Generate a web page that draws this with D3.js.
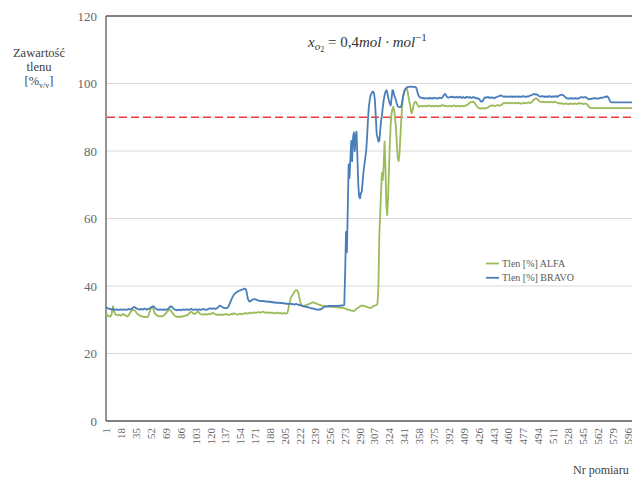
<!DOCTYPE html>
<html>
<head>
<meta charset="utf-8">
<script src="https://cdn.jsdelivr.net/npm/d3@7"></script>
<style>
  html, body { margin: 0; padding: 0; background: #fff; }
  svg { display: block; overflow: hidden; }
  text { font-family: "Liberation Serif", "DejaVu Serif", serif; }
</style>
</head>
<body>
<svg id="chart" width="632" height="478"></svg>
<script>
// Oxygen content measured by two analysers (ALFA, BRAVO), one value per measurement number
const seriesNames = ["Tlen [%] ALFA", "Tlen [%] BRAVO"];
const threshold = 90;
const yTicks = [0, 20, 40, 60, 80, 100, 120];
const xTickLabels = [1, 18, 35, 52, 69, 86, 103, 120, 137, 154, 171, 188, 205, 222, 239, 256, 273, 290,
  307, 324, 341, 358, 375, 392, 409, 426, 443, 460, 477, 494, 511, 528, 545, 562, 579, 596];

const alfa = [
  32.0, 31.5, 31.2, 31.0, 31.1, 31.0, 31.3, 32.5, 34.0, 32.6,
  31.9, 31.6, 31.4, 31.3, 31.4, 31.5, 31.3, 31.2, 31.4, 31.6,
  31.7, 31.5, 31.3, 31.2, 31.0, 31.1, 31.4, 31.8, 32.2, 32.6,
  32.8, 32.9, 32.9, 32.7, 32.4, 32.0, 31.7, 31.5, 31.3, 31.2,
  31.1, 31.0, 30.9, 30.8, 30.8, 30.9, 30.8, 30.8, 31.0, 31.6,
  32.5, 33.3, 33.8, 33.9, 33.2, 32.3, 31.8, 31.5, 31.3, 31.2,
  31.1, 31.0, 31.0, 31.1, 31.0, 31.1, 31.3, 31.5, 31.8, 32.1,
  32.4, 32.7, 32.9, 33.0, 32.8, 32.4, 32.0, 31.6, 31.3, 31.1,
  31.0, 30.9, 30.8, 30.9, 30.8, 30.9, 31.0, 30.9, 31.0, 31.1,
  31.2, 31.3, 31.2, 31.4, 31.6, 31.9, 32.2, 32.4, 32.3, 32.0,
  31.8, 31.7, 31.8, 32.0, 32.3, 32.4, 32.2, 31.9, 31.7, 31.6,
  31.5, 31.6, 31.5, 31.7, 31.6, 31.5, 31.6, 31.8, 31.7, 31.6,
  31.8, 32.0, 32.1, 31.9, 31.7, 31.6, 31.5, 31.4, 31.6, 31.5,
  31.4, 31.5, 31.6, 31.5, 31.4, 31.5, 31.6, 31.7, 31.6, 31.5,
  31.4, 31.5, 31.6, 31.7, 31.6, 31.8, 31.9, 31.8, 31.7, 31.6,
  31.5, 31.6, 31.7, 31.8, 31.7, 31.6, 31.7, 31.8, 31.9, 32.0,
  31.9, 31.8, 31.9, 32.0, 32.1, 32.0, 31.9, 32.0, 32.1, 32.2,
  32.1, 32.0, 32.1, 32.2, 32.3, 32.2, 32.1, 32.2, 32.3, 32.4,
  32.3, 32.2, 32.1, 32.2, 32.1, 32.0, 32.1, 32.2, 32.1, 32.0,
  32.1, 32.0, 31.9, 32.0, 31.9, 32.0, 32.1, 32.0, 31.9, 32.0,
  31.9, 31.8, 31.9, 32.0, 31.9, 31.8, 31.9, 32.0, 33.0, 34.5,
  35.5, 36.5, 37.0, 37.3, 37.8, 38.3, 38.6, 38.8, 38.7, 38.4,
  37.6, 36.2, 35.0, 34.4, 34.2, 34.0, 34.1, 34.2, 34.3, 34.4,
  34.5, 34.6, 34.7, 34.8, 34.9, 35.0, 35.2, 35.1, 35.0, 34.9,
  34.8, 34.7, 34.6, 34.5, 34.4, 34.3, 34.2, 34.2, 34.1, 34.1,
  34.0, 34.0, 33.9, 34.0, 33.9, 33.9, 33.8, 33.9, 33.9, 33.8,
  33.8, 33.7, 33.8, 33.7, 33.7, 33.6, 33.7, 33.6, 33.5, 33.6,
  33.5, 33.5, 33.4, 33.3, 33.2, 33.1, 33.0, 32.9, 32.9, 32.8,
  32.7, 32.7, 32.6, 32.6, 32.7, 33.0, 33.3, 33.4, 33.6, 33.8,
  34.0, 34.1, 34.2, 34.2, 34.1, 34.0, 34.0, 33.9, 33.8, 33.7,
  33.6, 33.5, 33.5, 33.6, 33.8, 34.0, 34.1, 34.2, 34.3, 34.4,
  35.0, 40.0, 55.0, 61.5, 68.0, 73.5, 71.4, 76.0, 82.8, 75.0,
  64.0, 61.0, 66.0, 74.4, 82.0, 88.0, 91.2, 92.5, 93.1, 92.0,
  89.5, 87.0, 82.0, 78.0, 77.0, 79.0, 84.0, 89.0, 93.0, 96.0,
  97.2, 98.0, 98.5, 98.6, 98.0, 96.5, 95.0, 93.8, 92.0, 91.2,
  92.0, 93.5, 94.2, 94.6, 94.5, 94.0, 93.5, 93.1, 93.2, 93.3,
  93.4, 93.3, 93.2, 93.3, 93.4, 93.3, 93.2, 93.4, 93.5, 93.4,
  93.3, 93.2, 93.3, 93.4, 93.3, 93.2, 93.3, 93.4, 93.3, 93.2,
  93.3, 93.4, 93.3, 93.5, 93.6, 93.5, 93.4, 93.3, 93.4, 93.3,
  93.2, 93.3, 93.4, 93.3, 93.2, 93.3, 93.4, 93.5, 93.4, 93.3,
  93.2, 93.3, 93.4, 93.3, 93.2, 93.3, 93.4, 93.3, 93.2, 93.3,
  93.4, 93.5, 93.6, 93.8, 94.0, 94.2, 94.4, 94.5, 94.6, 94.6,
  94.5, 94.2, 93.8, 93.4, 93.0, 92.8, 92.7, 92.6, 92.6, 92.7,
  92.6, 92.6, 92.7, 92.6, 92.7, 92.8, 92.9, 93.1, 93.3, 93.4,
  93.5, 93.4, 93.5, 93.4, 93.3, 93.4, 93.5, 93.6, 93.5, 93.4,
  93.5, 93.6, 93.8, 94.0, 94.2, 94.3, 94.2, 94.1, 94.2, 94.3,
  94.2, 94.1, 94.2, 94.3, 94.2, 94.1, 94.2, 94.3, 94.2, 94.1,
  94.2, 94.3, 94.2, 94.1, 94.0, 94.1, 94.2, 94.3, 94.2, 94.1,
  94.2, 94.3, 94.4, 94.3, 94.2, 94.3, 94.5, 94.8, 95.1, 95.3,
  95.5, 95.6, 95.5, 95.2, 94.9, 94.7, 94.6, 94.5, 94.6, 94.5,
  94.6, 94.5, 94.4, 94.5, 94.6, 94.5, 94.4, 94.5, 94.6, 94.5,
  94.4, 94.5, 94.6, 94.5, 94.4, 94.3, 94.2, 94.1, 94.2, 94.1,
  94.0, 94.1, 94.0, 93.9, 94.0, 94.1, 94.0, 93.9, 94.0, 93.9,
  94.0, 94.1, 94.0, 93.9, 94.0, 94.1, 94.0, 93.9, 94.0, 94.1,
  94.2, 94.1, 94.0, 94.1, 94.0, 93.9, 94.0, 94.1, 94.0, 93.9,
  93.6, 93.2, 92.9, 92.8, 92.7, 92.7, 92.7, 92.7, 92.7, 92.7,
  92.7, 92.7, 92.7, 92.7, 92.7, 92.7, 92.7, 92.7, 92.7, 92.7,
  92.7, 92.7, 92.7, 92.7, 92.7, 92.7, 92.7, 92.7, 92.7, 92.7,
  92.7, 92.7, 92.7, 92.7, 92.7, 92.7, 92.7, 92.7, 92.7, 92.7,
  92.7, 92.7, 92.7, 92.7, 92.7, 92.7, 92.7, 92.7, 92.7, 92.7,
  92.7, 92.7, 92.7, 92.7, 92.7, 92.7, 92.7, 92.7, 92.7, 92.7,
  92.7, 92.7
];

const bravo = [
  33.7, 33.5, 33.4, 33.3, 33.2, 33.2, 33.0, 33.1, 33.2, 33.0,
  32.9, 33.0, 33.1, 33.0, 32.9, 32.9, 33.0, 33.1, 33.0, 32.9,
  33.0, 33.1, 33.0, 32.9, 33.0, 33.1, 33.2, 33.1, 33.0, 33.2,
  33.4, 33.6, 33.8, 33.7, 33.5, 33.3, 33.2, 33.1, 33.0, 33.1,
  33.2, 33.1, 33.0, 33.2, 33.3, 33.2, 33.1, 33.0, 33.2, 33.3,
  33.4, 33.5, 33.7, 33.9, 34.0, 33.8, 33.5, 33.3, 33.1, 33.0,
  32.9, 33.0, 33.1, 33.0, 32.9, 33.0, 33.1, 33.0, 32.9, 33.0,
  33.1, 33.2, 33.5, 33.8, 34.0, 33.9, 33.6, 33.3, 33.1, 33.0,
  32.9, 32.8, 32.9, 33.0, 32.9, 32.8, 32.9, 33.0, 33.1, 33.0,
  32.9, 33.0, 33.1, 33.0, 32.9, 33.0, 33.1, 33.2, 33.1, 33.0,
  32.9, 33.0, 33.1, 33.0, 32.9, 33.0, 33.1, 33.0, 32.9, 33.0,
  33.1, 33.2, 33.1, 33.0, 32.9, 33.0, 33.1, 33.2, 33.3, 33.4,
  33.3, 33.2, 33.3, 33.4, 33.3, 33.2, 33.3, 33.5, 33.7, 34.0,
  34.2, 34.1, 33.9, 33.7, 33.6, 33.5, 33.4, 33.4, 33.5, 33.6,
  34.0, 34.6, 35.2, 35.9, 36.5, 37.0, 37.4, 37.7, 37.9, 38.1,
  38.3, 38.5, 38.6, 38.7, 38.8, 38.9, 39.0, 39.1, 39.2, 39.2,
  38.8, 37.5, 36.2, 35.6, 35.4, 35.5, 35.7, 35.9, 36.0, 36.1,
  36.1, 36.0, 35.9, 35.8, 35.7, 35.6, 35.6, 35.5, 35.5, 35.6,
  35.5, 35.4, 35.5, 35.4, 35.3, 35.4, 35.3, 35.4, 35.2, 35.3,
  35.2, 35.1, 35.2, 35.1, 35.0, 35.1, 35.0, 35.1, 35.0, 34.9,
  35.0, 34.9, 34.9, 34.8, 34.9, 34.8, 34.7, 34.8, 34.7, 34.7,
  34.8, 34.7, 34.6, 34.7, 34.6, 34.5, 34.6, 34.7, 34.6, 34.5,
  34.4, 34.3, 34.4, 34.2, 34.1, 34.0, 34.0, 33.9, 33.8, 33.8,
  33.7, 33.7, 33.6, 33.5, 33.4, 33.4, 33.3, 33.3, 33.2, 33.1,
  33.1, 33.0, 33.0, 33.1, 33.0, 33.1, 33.2, 33.4, 33.6, 33.8,
  33.9, 34.0, 33.9, 34.0, 34.1, 34.0, 34.1, 34.0, 34.1, 34.0,
  34.1, 34.0, 34.1, 34.1, 34.0, 34.1, 34.2, 34.1, 34.2, 34.3,
  34.2, 34.3, 34.4, 44.0, 56.0, 50.0, 63.0, 76.0, 72.0, 78.0,
  83.0, 77.0, 84.0, 85.5, 80.0, 84.5, 85.7, 78.0, 70.0, 66.5,
  66.0, 67.5, 68.0, 71.0, 74.0, 76.0, 78.0, 80.0, 84.0, 89.0,
  93.0, 95.0, 96.5, 97.0, 97.5, 97.6, 97.0, 95.0, 90.0, 85.0,
  84.0, 82.8, 83.0, 86.0, 89.0, 90.5, 93.0, 95.0, 96.5, 97.5,
  98.0, 97.5, 96.0, 95.0, 94.0, 93.5, 95.5, 98.0, 97.8, 96.5,
  95.8, 95.0, 94.0, 93.3, 93.1, 93.0, 93.0, 93.2, 94.5, 96.0,
  97.0, 98.0, 98.4, 98.7, 98.9, 99.0, 99.0, 99.1, 99.1, 99.0,
  99.0, 99.0, 99.0, 98.9, 98.8, 98.0, 97.0, 96.3, 96.0, 95.8,
  95.7, 95.8, 95.6, 95.7, 95.5, 95.6, 95.6, 95.7, 95.5, 95.6,
  95.8, 95.6, 95.5, 95.7, 95.6, 95.8, 95.7, 95.5, 95.6, 95.7,
  95.6, 95.8, 95.7, 95.6, 95.9, 96.3, 96.7, 96.9, 96.6, 96.1,
  95.9, 95.8, 95.9, 96.1, 96.0, 95.9, 96.1, 96.0, 95.8, 95.9,
  96.1, 95.9, 95.8, 96.0, 96.1, 95.9, 95.7, 95.9, 96.0, 95.8,
  95.7, 95.9, 96.1, 95.9, 95.8, 96.0, 95.9, 95.7, 95.8, 96.0,
  95.9, 95.7, 95.8, 95.6, 95.5, 95.6, 95.4, 95.0, 94.7, 94.6,
  94.8, 95.3, 95.7, 95.9, 95.8, 95.9, 96.0, 95.8, 95.9, 95.7,
  95.8, 95.9, 95.8, 95.6, 95.7, 95.9, 96.0, 96.1, 96.2, 96.3,
  96.4, 96.5, 96.3, 96.2, 96.1, 96.2, 96.0, 96.1, 96.2, 96.1,
  96.0, 96.1, 96.2, 96.1, 96.0, 96.2, 96.1, 96.0, 96.1, 96.2,
  96.1, 96.0, 96.2, 96.1, 96.0, 96.1, 96.3, 96.2, 96.1, 96.0,
  96.1, 96.2, 96.1, 96.3, 96.4, 96.5, 96.6, 96.7, 96.8, 96.9,
  96.8, 96.7, 96.8, 96.6, 96.3, 96.2, 96.1, 96.2, 96.3, 96.1,
  96.2, 96.0, 96.1, 96.2, 96.0, 96.1, 96.3, 96.2, 96.0, 96.1,
  96.2, 96.0, 96.1, 96.3, 96.2, 96.0, 96.2, 96.4, 96.5, 96.6,
  96.7, 96.6, 96.5, 96.3, 96.0, 95.8, 95.6, 95.5, 95.6, 95.5,
  95.6, 95.7, 95.5, 95.6, 95.5, 95.6, 95.7, 95.5, 95.6, 95.5,
  95.6, 95.8, 95.9, 96.0, 95.9, 95.8, 95.9, 96.0, 95.9, 95.7,
  95.5, 95.3, 95.4, 95.5, 95.4, 95.6, 95.5, 95.6, 95.7, 95.6,
  95.5, 95.6, 95.5, 95.6, 95.7, 95.8, 95.7, 95.8, 95.9, 96.0,
  96.1, 96.0, 96.2, 96.0, 95.6, 95.0, 94.6, 94.4, 94.4, 94.4,
  94.4, 94.4, 94.4, 94.4, 94.4, 94.4, 94.4, 94.4, 94.4, 94.4,
  94.4, 94.4, 94.4, 94.4, 94.4, 94.4, 94.4, 94.4, 94.4, 94.4,
  94.4, 94.4, 94.4, 94.4, 94.4, 94.4, 94.4, 94.4, 94.4, 94.4,
  94.4, 94.4
];

const colors = ["#9bbb59", "#4a7ebb"];
const N = Math.min(alfa.length, bravo.length);
const measurements = d3.range(1, N + 1);

const svg = d3.select("#chart");
const margin = { left: 106, top: 16 };
const plotH = 405;
const plotW = (N - 1) * 0.876;

const x = d3.scaleLinear().domain([1, N]).range([margin.left, margin.left + plotW]);
const y = d3.scaleLinear().domain([0, 120]).range([margin.top + plotH, margin.top]);

svg.append("defs").append("clipPath").attr("id", "plotClip")
  .append("rect").attr("x", margin.left).attr("y", margin.top - 2)
  .attr("width", plotW + 2).attr("height", plotH + 4);

// horizontal gridlines
svg.append("g").selectAll("line")
  .data(yTicks.filter(v => v > 0 && v < 120))
  .join("line")
  .attr("x1", margin.left).attr("x2", margin.left + plotW)
  .attr("y1", d => y(d)).attr("y2", d => y(d))
  .attr("stroke", "#d9d9d9").attr("stroke-width", 1);

// y axis
const yAxis = svg.append("g")
  .attr("transform", `translate(${margin.left},0)`)
  .call(d3.axisLeft(y).tickValues(yTicks).tickSize(0).tickPadding(9));
yAxis.select(".domain").remove();
yAxis.selectAll("text").attr("fill", "#666").style("font-size", "13px")
  .style("font-family", "'Liberation Serif', serif");

// x axis with rotated measurement numbers
const xAxis = svg.append("g")
  .attr("transform", `translate(0,${margin.top + plotH})`)
  .call(d3.axisBottom(x).tickValues(xTickLabels).tickFormat(d3.format("d")).tickSize(0));
xAxis.select(".domain").remove();
xAxis.selectAll("text")
  .attr("transform", "rotate(-90)")
  .attr("x", -7).attr("y", 0).attr("dy", "0.35em")
  .style("text-anchor", "end")
  .attr("fill", "#666").style("font-size", "11px")
  .style("font-family", "'Liberation Serif', serif");

// plot frame
const frame = svg.append("g").attr("stroke", "#595959").attr("stroke-width", 1.3).attr("fill", "none");
frame.append("line").attr("x1", margin.left).attr("x2", margin.left)
  .attr("y1", y(120)).attr("y2", y(0));
frame.append("line").attr("x1", margin.left).attr("x2", margin.left + plotW)
  .attr("y1", y(0)).attr("y2", y(0));
frame.append("line").attr("x1", margin.left).attr("x2", margin.left + plotW)
  .attr("y1", y(120)).attr("y2", y(120));

// 90 % threshold
svg.append("line")
  .attr("x1", margin.left + 1).attr("x2", margin.left + plotW)
  .attr("y1", y(threshold)).attr("y2", y(threshold))
  .attr("stroke", "#f03c3c").attr("stroke-width", 1.4)
  .attr("stroke-dasharray", "8,4");

// series lines
const line = d3.line().x((d, i) => x(measurements[i])).y(d => y(d));
const lines = svg.append("g").attr("clip-path", "url(#plotClip)");
[alfa, bravo].forEach((s, k) => {
  lines.append("path")
    .datum(s.slice(0, N))
    .attr("d", line)
    .attr("fill", "none")
    .attr("stroke", colors[k])
    .attr("stroke-width", 1.8)
    .attr("stroke-linejoin", "round");
});

// legend
const legend = svg.append("g");
seriesNames.forEach((name, k) => {
  const ly = 263.5 + k * 14.3;
  legend.append("line").attr("x1", 486).attr("x2", 499).attr("y1", ly).attr("y2", ly)
    .attr("stroke", colors[k]).attr("stroke-width", 1.8);
  legend.append("text").attr("x", 502).attr("y", ly).attr("dy", "0.35em")
    .attr("fill", "#595959").style("font-size", "10px").text(name);
});

// y axis title
const yTitle = svg.append("text").attr("text-anchor", "middle").attr("fill", "#404040")
  .style("font-size", "12.5px");
yTitle.append("tspan").attr("x", 39).attr("y", 57).text("Zawartość");
yTitle.append("tspan").attr("x", 39).attr("y", 71).text("tlenu");
const t3 = yTitle.append("tspan").attr("x", 39).attr("y", 85);
t3.append("tspan").text("[%");
t3.append("tspan").attr("dy", 3).style("font-size", "8px").text("v/v");
t3.append("tspan").attr("dy", -3).text("]");

// x axis title
svg.append("text").attr("x", 573).attr("y", 474).attr("fill", "#404040")
  .style("font-size", "12px").text("Nr pomiaru");

// composition annotation
const ann = svg.append("text").attr("x", 308).attr("y", 47).attr("fill", "#333")
  .style("font-size", "15px");
ann.append("tspan").style("font-style", "italic").text("x");
ann.append("tspan").attr("dy", 3).style("font-size", "11px").style("font-style", "italic").text("o");
ann.append("tspan").attr("dy", 2).style("font-size", "8px").text("2");
ann.append("tspan").attr("dy", -5).text(" = 0,4");
ann.append("tspan").style("font-style", "italic").text("mol · mol");
ann.append("tspan").attr("dy", -6).style("font-size", "11px").text("−1");
</script>
</body>
</html>
